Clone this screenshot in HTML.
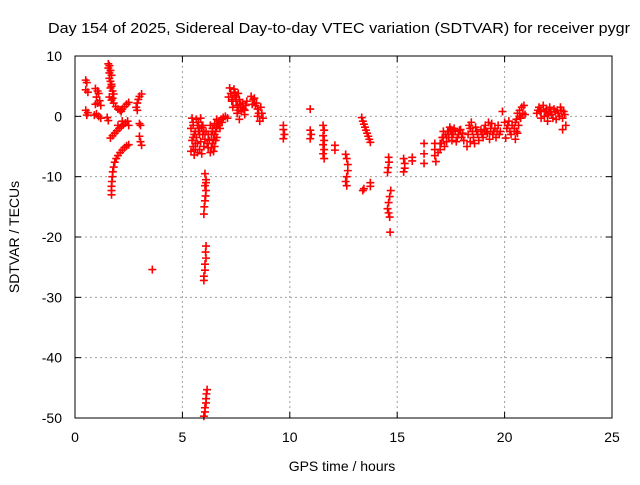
<!DOCTYPE html>
<html><head><meta charset="utf-8"><style>
body{margin:0;background:#fff}
svg text{font-family:"Liberation Sans",sans-serif;fill:#000}
</style></head><body>
<svg id="c" width="640" height="480" xmlns="http://www.w3.org/2000/svg">
<rect width="640" height="480" fill="#fff"/>
<text x="48" y="33" font-size="15" textLength="582" lengthAdjust="spacingAndGlyphs">Day 154 of 2025, Sidereal Day-to-day VTEC variation (SDTVAR) for receiver pygr</text>
<text x="342" y="471" font-size="14" text-anchor="middle">GPS time / hours</text>
<text x="0" y="0" font-size="14" text-anchor="middle" transform="translate(19,237) rotate(-90)">SDTVAR / TECUs</text>
<g id="grid"></g><g id="ticks"></g><g id="pts"></g>
<rect x="75" y="56" width="537" height="362" fill="none" stroke="#000" stroke-width="1"/>
</svg>
<script>
const xTicks=[0,5,10,15,20,25];
const yTicks=[10,0,-10,-20,-30,-40,-50];
const times=[0.5,0.55,0.5,0.6,0.5,0.6,0.55,
0.95,1.05,1.1,1.0,1.15,1.05,0.95,1.2,1.0,1.1,1.2,0.9,
1.55,1.6,1.55,1.65,1.6,1.7,1.6,1.65,1.7,1.65,1.75,1.8,1.7,1.75,
1.6,1.7,1.8,1.9,2.0,2.1,2.2,2.3,2.4,2.5,2.15,1.55,1.5,
1.65,1.75,1.85,1.95,2.05,2.15,2.25,2.35,2.45,2.5,2.2,2.0,
1.7,1.7,1.7,1.72,1.74,1.76,1.8,1.85,1.92,2.0,2.1,2.2,2.3,2.4,2.5,
2.85,2.9,2.95,3.0,3.1,2.9,3.0,3.05,3.0,3.05,3.1,3.6,
5.45,5.5,5.4,5.55,5.45,5.5,5.4,5.55,5.65,5.7,5.75,5.65,5.7,5.8,5.9,5.85,5.9,5.95,5.85,6.0,6.05,6.15,6.2,6.1,
6.05,6.1,6.05,6.1,6.08,6.05,6.02,6.0,6.1,
6.1,6.08,6.1,6.05,6.05,6.0,6.0,
6.15,6.12,6.1,6.1,6.05,6.05,6.0,
6.3,6.35,6.4,6.45,6.5,6.55,6.6,6.65,6.7,6.8,6.9,7.0,7.1,6.4,6.5,6.6,6.35,6.3,6.75,6.45,
7.15,7.2,7.3,7.4,7.45,7.5,7.55,7.6,7.65,7.7,7.75,7.8,7.85,7.9,7.55,7.65,7.35,7.95,
8.2,8.3,8.25,8.4,8.5,8.55,8.65,8.7,8.75,8.6,8.35,
9.7,9.7,9.75,9.7,10.95,10.95,11.0,10.95,
11.55,11.6,11.55,11.6,11.55,11.6,11.55,11.6,12.1,12.1,
12.6,12.65,12.7,12.7,12.65,12.6,12.65,
13.35,13.4,13.45,13.5,13.55,13.6,13.65,13.7,13.75,13.4,13.45,13.75,13.75,
14.6,14.62,14.58,14.55,14.7,14.65,14.6,14.55,14.6,14.65,14.67,
15.3,15.35,15.35,15.3,15.7,15.7,16.25,16.25,16.25,16.75,16.75,16.75,16.8,
16.9,17.0,17.05,17.1,17.2,17.25,17.3,17.35,17.4,17.5,17.55,17.6,17.7,17.75,17.85,17.9,18.0,18.05,17.15,17.45,
18.25,18.3,18.35,18.4,18.5,18.55,18.65,18.75,18.8,18.9,19.0,19.1,19.2,19.3,19.4,19.5,19.6,19.7,19.8,18.45,19.25,
19.9,20.0,20.1,20.2,20.3,20.05,20.35,
20.45,20.5,20.55,20.6,20.65,20.7,20.75,20.8,20.9,20.95,20.6,
21.5,21.6,21.7,21.8,21.9,22.0,22.1,22.2,22.3,22.4,22.5,22.6,22.7,22.8,22.85,22.7,22.0,21.7,
5.5,5.6,5.5,5.6,5.75,5.8,5.7,5.95,6.0,5.6,5.8,6.2,6.25,6.4,6.55,6.7,6.5,6.6,6.85,
7.25,7.35,7.5,7.6,7.7,7.8,7.45,7.9,8.0,8.45,8.5,
17.0,17.15,17.3,17.4,17.55,17.65,17.8,17.95,18.1,18.4,18.6,18.7,18.95,19.05,19.15,19.35,19.45,19.55,19.65,19.75,
20.15,20.25,20.5,20.7,20.85,20.55,21.55,21.65,21.85,21.95,22.05,22.25,22.35,22.45,22.55,22.65,22.75,22.15];
const vals=[6.0,5.6,4.4,4.0,1.0,0.6,0.2,
4.6,4.2,3.8,3.2,2.6,2.2,2.0,1.8,0.4,0.0,-0.3,0.2,
8.7,8.4,8.0,7.6,7.2,6.8,6.3,5.8,5.3,4.7,4.2,3.7,5.0,3.0,
3.2,2.7,2.2,1.6,1.2,1.0,1.2,1.6,2.0,2.3,0.8,-0.7,-0.2,
-3.6,-3.2,-2.8,-2.4,-2.0,-1.7,-1.4,-1.1,-0.8,-1.5,-0.8,-1.5,
-13.0,-12.3,-11.6,-10.8,-10.0,-9.2,-8.4,-7.6,-7.0,-6.5,-6.0,-5.6,-5.2,-4.9,-4.7,
1.5,2.2,2.8,3.3,3.7,1.0,-1.2,-1.5,-3.3,-4.2,-4.8,-25.4,
-0.3,-1.0,-2.0,-3.0,-4.0,-5.0,-5.8,-6.4,-0.5,-1.5,-2.5,-3.5,-4.5,-5.5,-6.2,-0.3,-1.8,-3.0,-4.2,-5.0,-3.8,-4.5,-5.2,-2.5,
-9.5,-10.5,-11.5,-12.3,-13.2,-14.0,-15.0,-16.2,-11.0,
-21.5,-22.5,-23.5,-24.5,-25.5,-26.5,-27.2,
-45.3,-46.0,-46.8,-47.5,-48.3,-49.0,-49.7,
-6.0,-5.2,-4.5,-3.8,-3.0,-2.5,-1.8,-1.2,-0.8,-0.5,-0.2,0.0,-0.3,-2.0,-1.2,-3.5,-3.0,-1.5,-2.0,-5.8,
3.2,4.7,2.5,4.5,3.5,2.5,1.8,3.8,2.8,1.5,0.8,2.2,1.2,0.3,0.5,-0.5,1.5,1.8,
3.3,2.8,2.0,1.8,1.2,0.5,1.5,0.5,-0.3,-0.8,3.0,
-1.5,-2.2,-3.0,-3.7,1.2,-2.3,-3.0,-3.7,
-1.5,-2.3,-3.2,-4.0,-4.7,-5.5,-6.2,-7.0,-4.8,-5.6,
-6.3,-7.0,-8.0,-9.0,-10.0,-10.8,-11.5,
-0.2,-0.8,-1.3,-1.8,-2.3,-2.8,-3.3,-3.8,-4.3,-12.3,-12.0,-11.0,-11.6,
-6.8,-7.6,-8.5,-9.3,-12.3,-13.3,-14.3,-15.3,-16.0,-16.7,-19.2,
-7.0,-7.8,-8.6,-9.2,-6.8,-7.4,-4.5,-6.2,-7.8,-4.5,-5.5,-6.5,-7.5,
-6.0,-5.5,-4.5,-3.5,-5.0,-3.0,-4.2,-2.5,-3.5,-2.2,-4.0,-3.0,-2.5,-4.2,-3.0,-2.3,-3.5,-2.8,-2.5,-1.8,
-5.0,-3.0,-1.5,-4.2,-2.5,-3.5,-1.8,-3.0,-4.0,-2.2,-3.5,-1.5,-2.8,-3.8,-1.2,-2.5,-3.5,-1.5,-2.5,-1.0,-1.0,
0.8,-1.0,-2.0,-0.8,-3.0,-3.6,-1.5,
-2.0,-3.8,-0.5,0.5,-1.5,1.0,-0.3,1.5,1.8,0.3,-2.8,
0.5,1.5,-0.3,1.8,0.8,-0.8,1.5,0.3,1.2,-0.5,0.5,1.5,-0.3,0.3,-1.5,-2.2,0.2,1.0,
-1.5,-2.5,-3.5,-4.5,-1.0,-2.0,-6.0,-1.5,-2.5,-5.5,-3.0,-3.0,-4.0,-2.5,-4.0,-1.5,-5.0,-0.5,-1.0,
3.8,2.8,3.2,1.0,2.0,1.5,4.0,1.0,2.5,2.2,0.0,
-4.5,-3.5,-3.5,-2.5,-3.0,-2.0,-3.5,-2.2,-4.0,-2.0,-4.5,-2.5,-3.0,-2.2,-2.5,-2.0,-3.0,-2.0,-2.5,-3.0,
-1.5,-2.5,-1.0,0.0,0.5,-2.5,1.0,0.8,0.0,1.2,0.5,-0.3,0.8,1.0,0.0,1.0,0.8,0.8];
const NS='http://www.w3.org/2000/svg';
const X0=75,X1=612,Y0=56,Y1=418;
function sx(t){return X0+(t-0)/(25-0)*(X1-X0);}
function sy(v){return Y1-(v-(-50))/(10-(-50))*(Y1-Y0);}
function mk(tag,a,parent){const e=document.createElementNS(NS,tag);for(const k in a)e.setAttribute(k,a[k]);parent.appendChild(e);return e;}
const grid=document.getElementById('grid'),ticks=document.getElementById('ticks'),pts=document.getElementById('pts');
xTicks.forEach(t=>{const x=sx(t);
 if(t>0&&t<25){const g=mk('line',{x1:x,y1:Y0,x2:x,y2:Y1,stroke:'#a0a0a0','stroke-dasharray':'2,3'},grid);
 
 }
 mk('line',{x1:x,y1:Y1,x2:x,y2:Y1-6,stroke:'#000'},ticks);
 mk('line',{x1:x,y1:Y0,x2:x,y2:Y0+6,stroke:'#000'},ticks);
 const l=mk('text',{x:x,y:Y1+24,'font-size':'14','text-anchor':'middle'},ticks);l.textContent=t;
 
 });
yTicks.forEach(v=>{const y=sy(v);
 if(v>-50&&v<10){const g=mk('line',{x1:X0,y1:y,x2:X1,y2:y,stroke:'#a0a0a0','stroke-dasharray':'2,3'},grid);
 
 }
 mk('line',{x1:X0,y1:y,x2:X0+6,y2:y,stroke:'#000'},ticks);
 mk('line',{x1:X1,y1:y,x2:X1-6,y2:y,stroke:'#000'},ticks);
 const l=mk('text',{x:X0-13,y:y+5,'font-size':'14','text-anchor':'end'},ticks);l.textContent=v;
 
 });
for(let i=0;i<times.length;i++){const x=sx(times[i]),y=sy(vals[i]);
 const p=mk('path',{d:`M${x-4},${y}h8M${x},${y-4}v8`,stroke:'#ff0000','stroke-width':'1.6',fill:'none'},pts);
 
 }
</script>
</body></html>
